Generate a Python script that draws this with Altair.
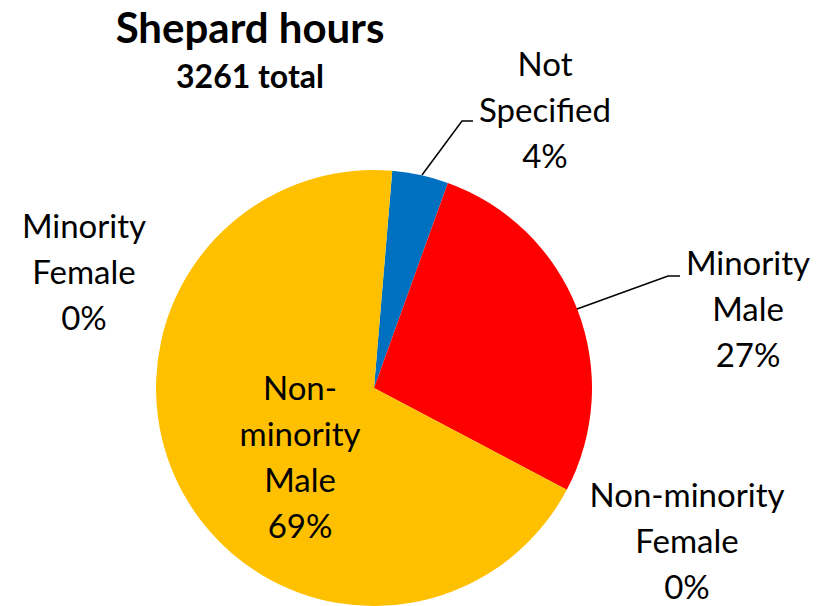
import math
import altair as alt
import pandas as pd

# ---- data ----
categories = ["Not Specified", "Minority Male", "Non-minority Female", "Non-minority Male", "Minority Female"]
hours = [136, 888, 0, 2237, 0]
colors = ["#0070C0", "#FF0000", "#A5A5A5", "#FFC000", "#70AD47"]
label_names = [["Not", "Specified"], ["Minority", "Male"], ["Non-minority", "Female"],
               ["Non-", "minority", "Male"], ["Minority", "Female"]]
title_text = "Shepard hours"

# ---- layout (chart pixel coords) ----
W, H = 823, 598
CX, CY, R = 366, 380, 218
START = 4.8 * math.pi / 180
label_pos = [(537, 68), (740, 267), (679, 499), (292, 392), (76, 230)]
LINE_H = 46
leaders = [
    [(414, 167), (454, 113), (465, 113)],
    [(569, 301), (660, 268), (672, 268)],
]
FONT = "Lato"
LABEL_SIZE = 33

total = sum(hours)
pie_df = pd.DataFrame({"cat": categories, "hours": hours, "order": list(range(len(categories)))})

pie = alt.Chart(pie_df).mark_arc(outerRadius=R, stroke=None).encode(
    theta=alt.Theta("hours:Q", stack=True, scale=alt.Scale(range=[START, START + 2 * math.pi])),
    order=alt.Order("order:Q"),
    color=alt.Color("cat:N", scale=alt.Scale(domain=categories, range=colors), legend=None),
    x=alt.value(CX),
    y=alt.value(CY),
)

rows = []
for cat, h, lines, (lx, ly) in zip(categories, hours, label_names, label_pos):
    pct = f"{round(100 * h / total)}%"
    for i, t in enumerate(lines + [pct]):
        rows.append({"t": t, "x": lx, "y": ly + i * LINE_H})
lab_df = pd.DataFrame(rows)
labels = alt.Chart(lab_df).mark_text(
    font=FONT, fontSize=LABEL_SIZE, color="black", align="center", baseline="alphabetic"
).encode(
    x=alt.X("x:Q", scale=None), y=alt.Y("y:Q", scale=None), text="t:N"
)

lrows = []
for k, seg in enumerate(leaders):
    for j, (px, py) in enumerate(seg):
        lrows.append({"g": k, "j": j, "x": px, "y": py})
lead_df = pd.DataFrame(lrows)
leader = alt.Chart(lead_df).mark_line(color="black", strokeWidth=1.5).encode(
    x=alt.X("x:Q", scale=None), y=alt.Y("y:Q", scale=None), detail="g:N", order="j:Q"
)

title_df = pd.DataFrame({"t": [title_text, f"{total} total"], "x": [242, 242], "y": [35, 80],
                         "s": [42, 32]})
title = alt.Chart(title_df).mark_text(
    font=FONT, fontWeight="bold", color="black", align="center", baseline="alphabetic"
).encode(
    x=alt.X("x:Q", scale=None), y=alt.Y("y:Q", scale=None), text="t:N",
    size=alt.Size("s:Q", scale=None, legend=None)
)

chart = alt.layer(pie, leader, labels, title).properties(
    width=W, height=H, padding=0, autosize=alt.AutoSizeParams(type="none")
).configure_view(stroke=None)

chart.save("out.html", embed_options={"renderer": "svg", "actions": False})
